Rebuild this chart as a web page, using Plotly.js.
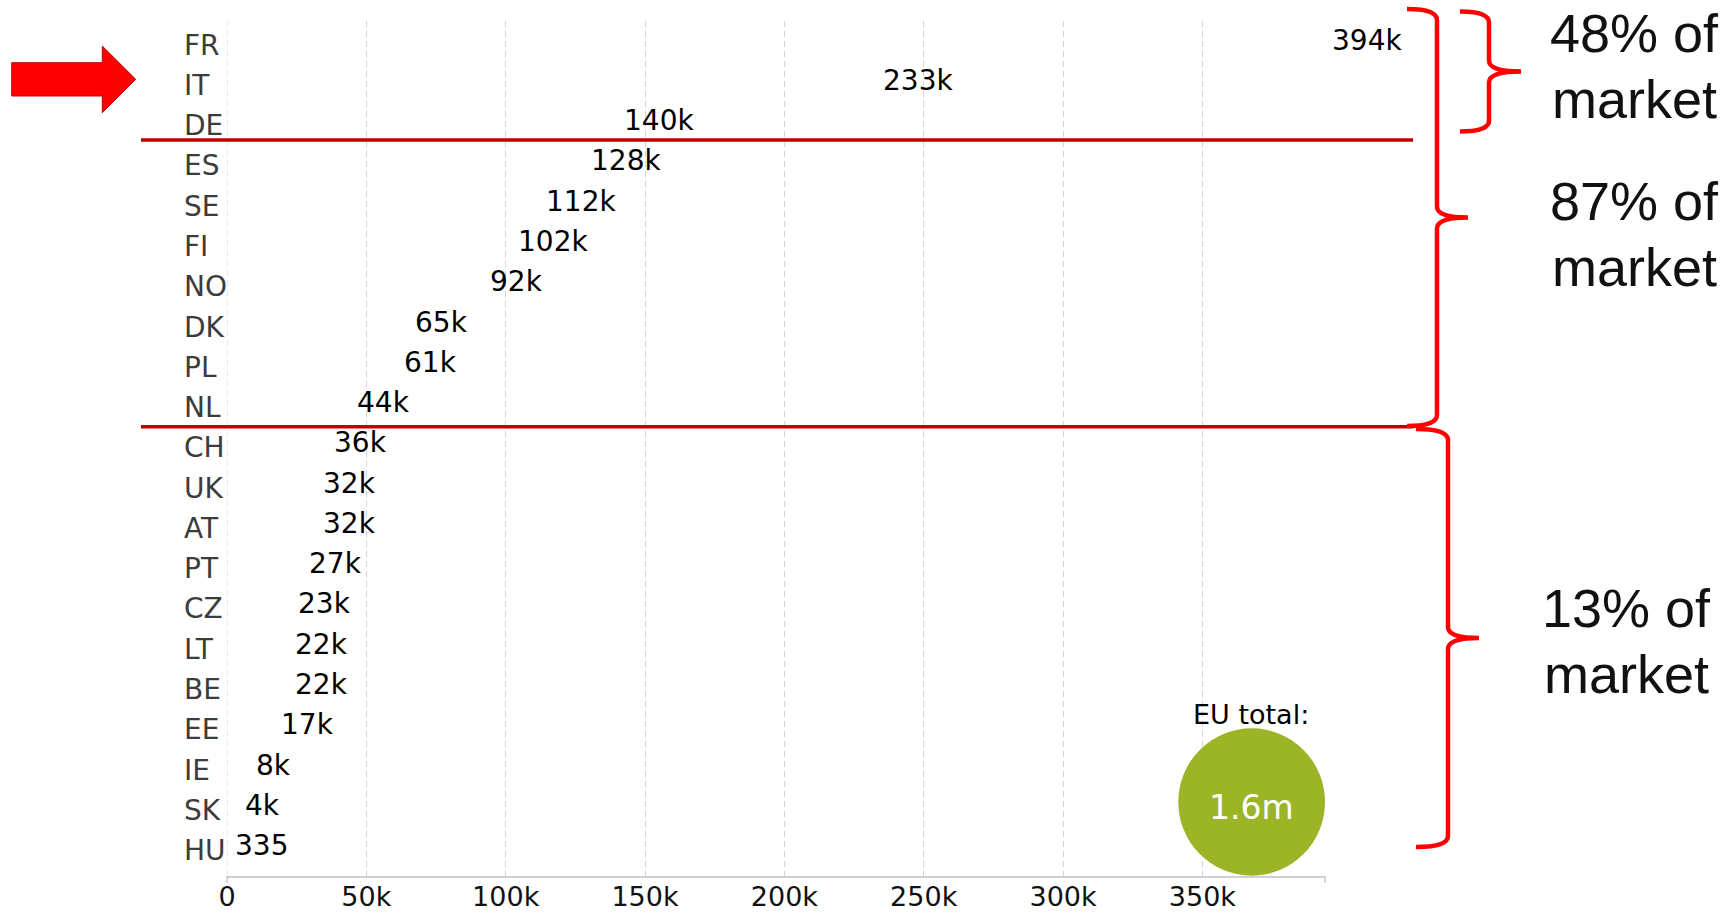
<!DOCTYPE html>
<html>
<head>
<meta charset="utf-8">
<script src="https://cdn.plot.ly/plotly-3.0.1.min.js"></script>
<style>html,body{margin:0;padding:0;background:#fff;}#chart{width:1728px;height:914px;}</style>
</head>
<body>
<div id="chart"></div>
<script>
// ---- data ----
const countries = ["FR","IT","DE","ES","SE","FI","NO","DK","PL","NL","CH","UK","AT","PT","CZ","LT","BE","EE","IE","SK","HU"];
const units = [394000,233000,140000,128000,112000,102000,92000,65000,61000,44000,36000,32000,32000,27000,23000,22000,22000,17000,8000,4000,335];
const xTickVals = [0,50000,100000,150000,200000,250000,300000,350000];
const xTickText = ["0","50k","100k","150k","200k","250k","300k","350k"];
const groupLabels = [["48% of","market"],["87% of","market"],["13% of","market"]];
const euTotalLabel = "EU total:";
const euTotalValue = "1.6m";

// ---- layout geometry (pixels) ----
const L = 227, R = 1325, T = 21, B = 876;
const W = R - L, H = B - T;
const px = x => (x - L) / W;
const py = y => (B - y) / H;
const P = (x, y) => px(x).toFixed(5) + "," + py(y).toFixed(5);

function brace(x0, xv, xtip, yt, yb, r) {
  const ym = (yt + yb) / 2;
  return "M" + P(x0, yt) + " Q" + P(xv, yt) + " " + P(xv, yt + r) +
         " L" + P(xv, ym - r) + " Q" + P(xv, ym) + " " + P(xtip, ym) +
         " M" + P(x0, yb) + " Q" + P(xv, yb) + " " + P(xv, yb - r) +
         " L" + P(xv, ym + r) + " Q" + P(xv, ym) + " " + P(xtip, ym);
}

function fmt(v) { return v >= 1000 ? Math.round(v / 1000) + "k" : String(v); }

const trace = {
  type: "bar",
  orientation: "h",
  y: countries,
  x: units,
  marker: {color: "rgba(0,0,0,0)", line: {width: 0}},
  hoverinfo: "skip"
};

const redLine = {color: "#c00000", width: 3.5};
const braceLine = {color: "#ff0000", width: 4.5};
const gridGrey = "#d3d3d3";

const shapes = [
  {type: "line", xref: "x", yref: "paper", x0: 0, x1: 0, y0: 0, y1: 1, line: {color: gridGrey, width: 1, dash: "6px,4px"}, layer: "below"},
  {type: "line", xref: "paper", yref: "paper", x0: px(141), x1: px(1413), y0: py(140), y1: py(140), line: redLine},
  {type: "line", xref: "paper", yref: "paper", x0: px(141), x1: px(1413), y0: py(426.7), y1: py(426.7), line: redLine},
  {type: "path", xref: "paper", yref: "paper", path: brace(1407, 1437, 1468, 9, 426, 11), line: braceLine},
  {type: "path", xref: "paper", yref: "paper", path: brace(1460, 1489, 1521, 11.5, 131.5, 11), line: braceLine},
  {type: "path", xref: "paper", yref: "paper", path: brace(1416, 1448, 1479, 429, 847, 11), line: braceLine},
  {type: "path", xref: "paper", yref: "paper",
   path: "M" + P(11.7, 62.7) + " L" + P(102.3, 62.7) + " L" + P(102.3, 46) + " L" + P(135.7, 79.3) +
         " L" + P(102.3, 112.7) + " L" + P(102.3, 96) + " L" + P(11.7, 96) + " Z",
   fillcolor: "#ff0000", line: {color: "#c00000", width: 1}},
  {type: "circle", xref: "paper", yref: "paper", x0: px(1178.3), x1: px(1325), y0: py(875.7), y1: py(728.3),
   fillcolor: "#9bb526", line: {width: 0}},
  {type: "line", xref: "paper", yref: "paper", x0: 0, x1: 0, y0: 0, y1: py(883), line: {color: "#cccccc", width: 1.5}},
  {type: "line", xref: "paper", yref: "paper", x0: 1, x1: 1, y0: 0, y1: py(883), line: {color: "#cccccc", width: 1.5}}
];

const annotations = [];
// category labels (left-aligned)
countries.forEach(c => {
  annotations.push({text: c, xref: "paper", yref: "y", x: px(182), y: c, xanchor: "left", yanchor: "middle",
    yshift: -4, showarrow: false, font: {family: "DejaVu Sans", size: 28, color: "#3c3c3c"}});
});
// value labels at bar ends
countries.forEach((c, i) => {
  annotations.push({text: fmt(units[i]), xref: "x", yref: "y", x: units[i], y: c, xanchor: "left", yanchor: "middle",
    xshift: 5, yshift: 1, showarrow: false, font: {family: "DejaVu Sans", size: 28, color: "#000"}});
});
const groupCenters = [[1634, 33.5, 98.7], [1634, 200.7, 267.4], [1626, 607.7, 673.7]];
groupLabels.forEach((lines, i) => {
  lines.forEach((t, j) => {
    annotations.push({text: t, xref: "paper", yref: "paper", x: px(groupCenters[i][0]), y: py(groupCenters[i][1 + j]),
      xanchor: "center", yanchor: "middle", showarrow: false,
      font: {family: "Liberation Sans, Arial, sans-serif", size: 54, color: "#111"}});
  });
});
annotations.push({text: euTotalLabel, xref: "paper", yref: "paper", x: px(1251), y: py(715), xanchor: "center", yanchor: "middle",
  showarrow: false, font: {family: "DejaVu Sans", size: 27, color: "#000"}});
annotations.push({text: euTotalValue, xref: "paper", yref: "paper", x: px(1251.5), y: py(807), xanchor: "center", yanchor: "middle",
  showarrow: false, font: {family: "DejaVu Sans", size: 33, color: "#fff"}});

const layout = {
  width: 1728, height: 914,
  margin: {l: L, r: 1728 - R, t: T, b: 914 - B, pad: 0},
  paper_bgcolor: "#fff", plot_bgcolor: "#fff",
  showlegend: false,
  bargap: 0.2,
  xaxis: {
    range: [0, 394000], tickvals: xTickVals, ticktext: xTickText,
    showgrid: true, gridcolor: gridGrey, gridwidth: 1, griddash: "6px,4px",
    zeroline: false, showline: true, linecolor: "#d0d0d0", linewidth: 2,
    ticks: "", ticklabelstandoff: -4,
    tickfont: {family: "DejaVu Sans", size: 27, color: "#111"},
    fixedrange: true
  },
  yaxis: {
    type: "category", categoryorder: "array", categoryarray: countries,
    range: [20.73, -0.5], showticklabels: false, showgrid: false, zeroline: false, showline: false,
    ticks: "", fixedrange: true
  },
  shapes: shapes,
  annotations: annotations
};

Plotly.newPlot("chart", [trace], layout, {displayModeBar: false, staticPlot: true});
</script>
</body>
</html>
